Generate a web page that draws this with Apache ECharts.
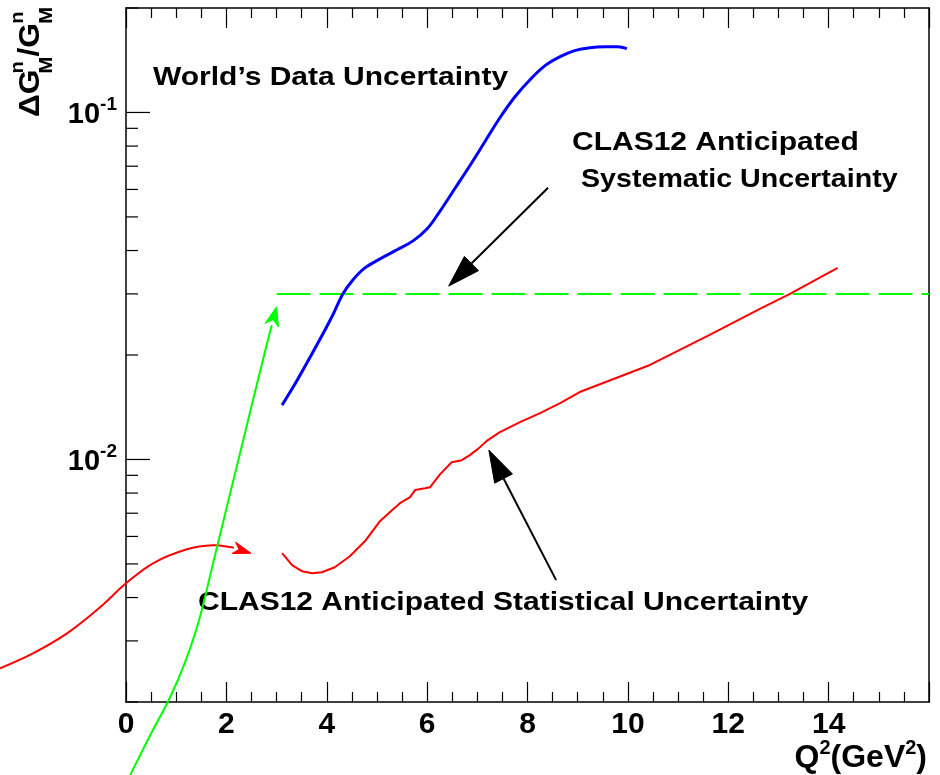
<!DOCTYPE html>
<html>
<head>
<meta charset="utf-8">
<title>Neutron magnetic form factor uncertainty</title>
<script src="https://cdn.jsdelivr.net/npm/echarts@6.0.0/dist/echarts.min.js"></script>
<style>
  html, body { margin: 0; padding: 0; background: #ffffff; }
  #chart { width: 940px; height: 775px; }
</style>
</head>
<body>
<div id="chart"></div>
<script>
// Q^2 axis tick labels (GeV^2)
const q2TickLabels = [0, 2, 4, 6, 8, 10, 12, 14];

// World's data relative uncertainty on G_M^n
const worldQ2  = [3.11, 3.39, 3.67, 3.90, 4.12, 4.32, 4.52, 4.76, 5.06, 5.40, 5.72, 6.00, 6.26, 6.55,
                  6.85, 7.15, 7.45, 7.75, 8.05, 8.35, 8.65, 8.94, 9.24, 9.54, 9.80, 9.98];
const worldErr = [0.01434, 0.01671, 0.01973, 0.02268, 0.02608, 0.0300, 0.03291, 0.03564, 0.03784, 0.0402,
                  0.04265, 0.04619, 0.05205, 0.06026, 0.0702, 0.08233, 0.09654, 0.111, 0.1243, 0.1364,
                  0.1448, 0.1507, 0.1537, 0.1547, 0.1547, 0.1527];

// CLAS12 anticipated statistical uncertainty
const statQ2  = [3.11, 3.31, 3.51, 3.71, 3.90, 4.16, 4.46, 4.76, 5.06, 5.30, 5.46, 5.66, 5.76, 5.96, 6.06,
                 6.26, 6.49, 6.69, 6.85, 7.01, 7.21, 7.45, 7.85, 8.25, 8.65, 9.04, 10.44, 11.63, 12.63, 13.23, 14.18];
const statErr = [0.00537, 0.00496, 0.00476, 0.0047, 0.00473, 0.00489, 0.00526, 0.00581, 0.00664, 0.00714,
                 0.00748, 0.00779, 0.00816, 0.00826, 0.00832, 0.00907, 0.00982, 0.00995, 0.01029, 0.01071,
                 0.01137, 0.01199, 0.01281, 0.0136, 0.01453, 0.01564, 0.01872, 0.02285, 0.02716, 0.0300, 0.03566];

// CLAS12 anticipated systematic uncertainty (flat)
const sysQ2  = [3.0, 16.0];
const sysErr = [0.03, 0.03];

// log-axis tick values
const yDecades    = [0.01, 0.1];
const yMinorTicks = [0.002, 0.003, 0.004, 0.005, 0.006, 0.007, 0.008, 0.009,
                     0.02, 0.03, 0.04, 0.05, 0.06, 0.07, 0.08, 0.09, 0.2];

// curved pointer arrows (red: low-Q2 statistics, green: systematic level); last point is the tip
const redPointerQ2  = [-2.51, -1.853, -1.176, -0.518, 0.0, 0.538, 1.215, 1.733, 2.112, 2.49];
const redPointerVal = [0.0025, 0.002761, 0.003152, 0.003748, 0.004396, 0.005022, 0.00551, 0.00566,
                       0.005585, 0.005367];
const greenPointerQ2  = [0.08, 0.48, 0.877, 1.176, 1.455, 1.733, 2.032, 2.331, 2.630, 2.869, 3.0];
const greenPointerVal = [0.001228, 0.001602, 0.002061, 0.002602, 0.003439, 0.00501, 0.00753, 0.01129,
                         0.01696, 0.02333, 0.02753];

// straight label arrows: [fromQ2, fromVal, toQ2, toVal]
const sysLabelArrow  = [8.41, 0.0607, 6.43, 0.0316];
const statLabelArrow = [8.57, 0.00449, 7.23, 0.01064];

const FONT = 'Liberation Sans';
const zip = (a, b) => a.map((v, i) => [v, b[i]]);

// polygon for a (optionally notched) arrow head pointing from `from` to `tip`
function headPoints(tip, from, len, half, notch) {
  const dx = tip[0] - from[0], dy = tip[1] - from[1];
  const d = Math.hypot(dx, dy) || 1;
  const ux = dx / d, uy = dy / d, px = -uy, py = ux;
  const bx = tip[0] - ux * len, by = tip[1] - uy * len;
  const nx = tip[0] - ux * len * (1 - notch), ny = tip[1] - uy * len * (1 - notch);
  return [[tip[0], tip[1]], [bx + px * half, by + py * half], [nx, ny], [bx - px * half, by - py * half]];
}

// smooth curved arrow drawn through the axes' scales; the series item is the tip
function pointerSeries(q, v, color, len, half) {
  const n = q.length;
  return {
    type: 'custom', silent: true, clip: false, z: 4,
    encode: { x: 0, y: 1 },
    data: [[q[n - 1], v[n - 1]]],
    renderItem(params, api) {
      const pts = q.map((x, i) => api.coord([x, v[i]]));
      const head = headPoints(pts[n - 1], pts[n - 2], len, half, 0.3);
      const stop = [(head[1][0] + head[3][0]) / 2, (head[1][1] + head[3][1]) / 2];
      const linePts = pts.slice(0, n - 1).concat([stop]);
      return {
        type: 'group',
        children: [
          { type: 'polyline', shape: { points: linePts, smooth: 0.35 },
            style: { stroke: color, lineWidth: 2, fill: null } },
          { type: 'polygon', shape: { points: head }, style: { fill: color, stroke: color, lineWidth: 1 } }
        ]
      };
    }
  };
}

const chart = echarts.init(document.getElementById('chart'));

const tickAxisCommon = {
  type: 'value', min: 0, max: 16, interval: 2,
  splitLine: { show: false },
  axisLine: { show: true, onZero: false, lineStyle: { color: '#000', width: 1.5 } },
  axisTick: { show: true, inside: true, length: 20, lineStyle: { color: '#000', width: 1.2 } },
  minorTick: { show: true, splitNumber: 4, length: 10, lineStyle: { color: '#000', width: 1.2 } },
  minorSplitLine: { show: false }
};

chart.setOption({
  animation: false,
  backgroundColor: '#ffffff',
  grid: { left: 126, top: 8, width: 803, height: 694, containLabel: false, outerBoundsMode: 'none' },
  xAxis: [
    Object.assign({}, tickAxisCommon, {
      position: 'bottom',
      axisLabel: {
        show: true, margin: 8, color: '#000', fontFamily: FONT, fontWeight: 'bold', fontSize: 30,
        formatter: v => (q2TickLabels.indexOf(v) >= 0 ? String(v) : '')
      }
    }),
    Object.assign({}, tickAxisCommon, { position: 'top', axisLabel: { show: false } })
  ],
  yAxis: [
    {
      type: 'log', logBase: 10, min: 0.002, max: 0.2,
      splitLine: { show: false },
      axisLine: { show: true, onZero: false, lineStyle: { color: '#000', width: 1.5 } },
      axisTick: { show: false },
      axisLabel: {
        show: true, margin: 9, color: '#000',
        formatter: v => {
          const e = Math.log10(v), r = Math.round(e);
          if (Math.abs(e - r) > 1e-6 || yDecades.every(d => Math.abs(Math.log10(d) - r) > 1e-6)) return '';
          return '{b|10}{e|' + r + '}';
        },
        rich: {
          b: { fontFamily: FONT, fontWeight: 'bold', fontSize: 29, color: '#000', verticalAlign: 'bottom', lineHeight: 34 },
          e: { fontFamily: FONT, fontWeight: 'bold', fontSize: 19, color: '#000', verticalAlign: 'top', lineHeight: 20 }
        }
      }
    },
    {
      type: 'log', logBase: 10, min: 0.002, max: 0.2, position: 'right',
      splitLine: { show: false }, axisTick: { show: false }, axisLabel: { show: false },
      axisLine: { show: true, onZero: false, lineStyle: { color: '#000', width: 1.5 } }
    }
  ],
  series: [
    // left-axis decade and sub-decade ticks
    {
      type: 'custom', silent: true, z: 3,
      encode: { x: 0, y: 1 },
      data: yDecades.concat(yMinorTicks).map(v => [0, v]),
      renderItem(params, api) {
        const v = api.value(1);
        const p = api.coord([0, v]);
        const len = yDecades.indexOf(v) >= 0 ? 24 : 12;
        return { type: 'line', shape: { x1: p[0], y1: p[1], x2: p[0] + len, y2: p[1] },
                 style: { stroke: '#000', lineWidth: 1.2 } };
      }
    },
    {
      name: 'Systematic', type: 'line', data: zip(sysQ2, sysErr), symbol: 'none', silent: true,
      lineStyle: { color: '#00ff00', width: 2, type: [34, 9] }, z: 2
    },
    {
      name: 'World', type: 'line', data: zip(worldQ2, worldErr), symbol: 'none', smooth: 0.35, silent: true,
      lineStyle: { color: '#0000ff', width: 3 }, z: 3
    },
    {
      name: 'Statistical', type: 'line', data: zip(statQ2, statErr), symbol: 'none', silent: true,
      lineStyle: { color: '#ff0000', width: 2 }, z: 3
    },
    pointerSeries(redPointerQ2, redPointerVal, '#ff0000', 18, 6),
    pointerSeries(greenPointerQ2, greenPointerVal, '#00ff00', 19, 7),
    // black arrows tying labels to curves
    {
      type: 'custom', silent: true, clip: false, z: 5,
      encode: { x: [0, 2], y: [1, 3] },
      data: [sysLabelArrow, statLabelArrow],
      renderItem(params, api) {
        const a = api.coord([api.value(0), api.value(1)]);
        const b = api.coord([api.value(2), api.value(3)]);
        const head = headPoints(b, a, 32, 10, 0);
        const base = [(head[1][0] + head[3][0]) / 2, (head[1][1] + head[3][1]) / 2];
        return {
          type: 'group',
          children: [
            { type: 'line', shape: { x1: a[0], y1: a[1], x2: base[0], y2: base[1] }, style: { stroke: '#000', lineWidth: 2 } },
            { type: 'polygon', shape: { points: head }, style: { fill: '#000', stroke: '#000', lineWidth: 1 } }
          ]
        };
      }
    }
  ],
  graphic: [
    {
      type: 'text', x: 153, y: 78, scaleX: 1.2, silent: true,
      style: { text: 'World\u2019s Data Uncertainty', fontFamily: FONT, fontWeight: 'bold', fontSize: 25,
               fill: '#000', align: 'left', verticalAlign: 'middle' }
    },
    {
      type: 'text', x: 572, y: 143, scaleX: 1.2, silent: true,
      style: { text: 'CLAS12 Anticipated', fontFamily: FONT, fontWeight: 'bold', fontSize: 25,
               fill: '#000', align: 'left', verticalAlign: 'middle' }
    },
    {
      type: 'text', x: 581, y: 180, scaleX: 1.145, silent: true,
      style: { text: 'Systematic Uncertainty', fontFamily: FONT, fontWeight: 'bold', fontSize: 25,
               fill: '#000', align: 'left', verticalAlign: 'middle' }
    },
    {
      type: 'text', x: 198, y: 603, scaleX: 1.2, silent: true,
      style: { text: 'CLAS12 Anticipated Statistical Uncertainty', fontFamily: FONT, fontWeight: 'bold', fontSize: 25,
               fill: '#000', align: 'left', verticalAlign: 'middle' }
    },
    {
      type: 'text', x: 927, y: 756, silent: true,
      style: {
        text: '{b|Q}{e|2}{b|(GeV}{e|2}{b|)}', align: 'right', verticalAlign: 'middle',
        rich: {
          b: { fontFamily: FONT, fontWeight: 'bold', fontSize: 32, fill: '#000', verticalAlign: 'bottom', lineHeight: 36 },
          e: { fontFamily: FONT, fontWeight: 'bold', fontSize: 20, fill: '#000', verticalAlign: 'top', lineHeight: 20 }
        }
      }
    },
    {
      // vertical axis title, reading bottom to top
      type: 'group', x: 31, y: 117, rotation: Math.PI / 2, scaleX: 1.06, silent: true,
      children: [
        { type: 'text', x: 0, y: 0, style: { text: '\u0394G', fontFamily: FONT, fontWeight: 'bold', fontSize: 30, fill: '#000', align: 'left', verticalAlign: 'middle' } },
        { type: 'text', x: 41, y: -13, style: { text: 'n', fontFamily: FONT, fontWeight: 'bold', fontSize: 19, fill: '#000', align: 'left', verticalAlign: 'middle' } },
        { type: 'text', x: 41, y: 16, style: { text: 'M', fontFamily: FONT, fontWeight: 'bold', fontSize: 19, fill: '#000', align: 'left', verticalAlign: 'middle' } },
        { type: 'text', x: 57, y: 0, style: { text: '/G', fontFamily: FONT, fontWeight: 'bold', fontSize: 30, fill: '#000', align: 'left', verticalAlign: 'middle' } },
        { type: 'text', x: 88, y: -13, style: { text: 'n', fontFamily: FONT, fontWeight: 'bold', fontSize: 19, fill: '#000', align: 'left', verticalAlign: 'middle' } },
        { type: 'text', x: 88, y: 16, style: { text: 'M', fontFamily: FONT, fontWeight: 'bold', fontSize: 19, fill: '#000', align: 'left', verticalAlign: 'middle' } }
      ]
    }
  ]
});
</script>
</body>
</html>
